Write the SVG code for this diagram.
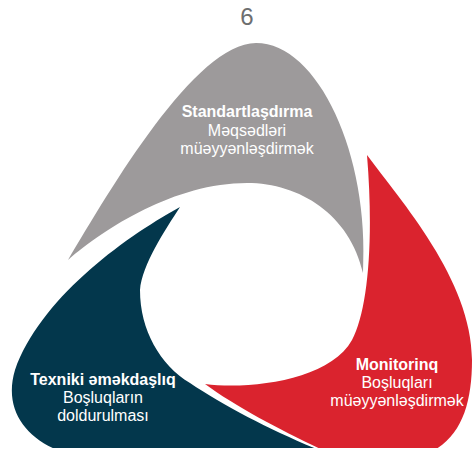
<svg xmlns="http://www.w3.org/2000/svg" width="472" height="454" viewBox="0 0 472 454">
  <style>
    .t { font-family: "Liberation Sans", Arial, sans-serif; font-size: 16px; fill: #ffffff; text-anchor: middle; }
    .b { font-weight: bold; }
    .num { font-family: "Liberation Sans", Arial, sans-serif; font-size: 24px; fill: #6d6e70; text-anchor: middle; }
  </style>
  <defs>
    <clipPath id="frame">
      <rect x="0" y="0" width="472" height="448"/>
    </clipPath>
  </defs>
  <text class="num" x="247" y="25">6</text>
  <g clip-path="url(#frame)">
    <g id="standartlasdirma">
      <path fill="#9d9a9b" d="M68,260 C110,190 195,43 256,43 C318,43 370,155 363,273 C350,215 300,183 247,183 C175,183 105,228 68,260 Z"/>
      <text class="t b" x="247" y="117">Standartlaşdırma</text>
      <text class="t" x="247" y="136">Məqsədləri</text>
      <text class="t" x="247" y="154">müəyyənləşdirmək</text>
    </g>
    <g id="monitorinq">
      <path fill="#da232e" d="M367,155 C400,200 472,280 472,360 C472,415 455,455 400,460 L340,458 C300,440 240,410 205,384 C250,390 330,380 352,340 C368,310 374,240 367,155 Z"/>
      <text class="t b" x="397" y="370">Monitorinq</text>
      <text class="t" x="397" y="388">Boşluqları</text>
      <text class="t" x="397" y="406">müəyyənləşdirmək</text>
    </g>
    <g id="texniki">
      <path fill="#03374c" d="M180,207 C120,240 40,300 15,370 C0,420 40,455 100,460 L345,460 C290,440 230,410 190,383 C160,365 140,330 140,290 C142,265 165,230 180,207 Z"/>
      <text class="t b" x="103" y="385">Texniki əməkdaşlıq</text>
      <text class="t" x="103" y="403">Boşluqların</text>
      <text class="t" x="103" y="421">doldurulması</text>
    </g>
  </g>
  <g id="connectors"/>
</svg>
